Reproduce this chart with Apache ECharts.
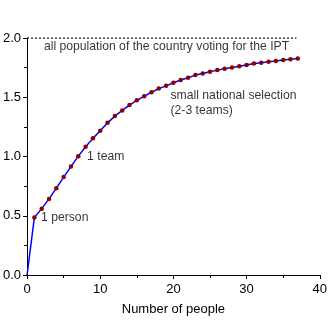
<!DOCTYPE html>
<html><head><meta charset="utf-8">
<script src="https://cdn.jsdelivr.net/npm/echarts@6/dist/echarts.min.js"></script>
<style>html,body{margin:0;padding:0;background:#fff}#c{width:330px;height:330px}</style>
</head><body><div id="c"></div>
<script>
var people = [0,1,2,3,4,5,6,7,8,9,10,11,12,13,14,15,16,17,18,19,20,21,22,23,24,25,26,27,28,29,30,31,32,33,34,35,36,37];
var values = [0,0.486,0.56,0.642,0.733,0.826,0.915,1.003,1.082,1.153,1.218,1.284,1.341,1.389,1.434,1.474,1.508,1.542,1.573,1.596,1.622,1.645,1.664,1.687,1.701,1.715,1.729,1.741,1.752,1.761,1.772,1.784,1.792,1.80,1.806,1.814,1.821,1.827];
var limitX = [0, 36.8];
var limitY = 2;
var notes = [
  {text:'all population of the country voting for the IPT', x:2.3, y:1.925},
  {text:'small national selection', x:19.6, y:1.514},
  {text:'(2-3 teams)', x:19.6, y:1.386},
  {text:'1 team', x:8.2, y:1.003},
  {text:'1 person', x:1.9, y:0.483}
];
var font = 'Liberation Sans, Arial, sans-serif';
var chart = echarts.init(document.getElementById('c'), null, {renderer:'canvas'});
chart.setOption({
  animation:false,
  grid:{left:26, right:10, top:38, bottom:55, containLabel:false},
  xAxis:{type:'value', min:0, max:40, interval:10,
    name:'Number of people', nameLocation:'middle', nameGap:28,
    nameTextStyle:{color:'#000', fontSize:13, fontFamily:font},
    axisLine:{show:true, lineStyle:{color:'#000', width:1}},
    axisTick:{show:true, inside:false, length:4, lineStyle:{color:'#000'}},
    minorTick:{show:true, splitNumber:2, length:3, lineStyle:{color:'#000'}},
    axisLabel:{color:'#000', fontSize:13, fontFamily:font, margin:8},
    splitLine:{show:false}},
  yAxis:{type:'value', min:0, max:2, interval:0.5,
    axisLine:{show:true, lineStyle:{color:'#000', width:1}},
    axisTick:{show:true, inside:false, length:4, lineStyle:{color:'#000'}},
    minorTick:{show:true, splitNumber:2, length:3, lineStyle:{color:'#000'}},
    axisLabel:{color:'#000', fontSize:13, fontFamily:font, margin:6,
      formatter:function(v){return v.toFixed(1);}},
    splitLine:{show:false}},
  series:[
    {type:'line', data:[[limitX[0],limitY],[limitX[1],limitY]], symbol:'none',
     lineStyle:{color:'#000', width:1.3, type:[2,2]}, silent:true},
    {type:'line', data:people.map(function(p,i){return [p, values[i]];}),
     symbol:'circle', symbolSize:function(v,p){return p.dataIndex===0?0:4.5;},
     showSymbol:true,
     lineStyle:{color:'#0000ff', width:1.5},
     itemStyle:{color:'#8b0000', borderWidth:0}},
    {type:'scatter', symbolSize:0, silent:true,
     data:notes.map(function(n){return {value:[n.x,n.y], label:{formatter:n.text}};}),
     label:{show:true, position:'right', distance:0, color:'#000', fontSize:12.2, fontFamily:font}}
  ]
});
</script></body></html>
